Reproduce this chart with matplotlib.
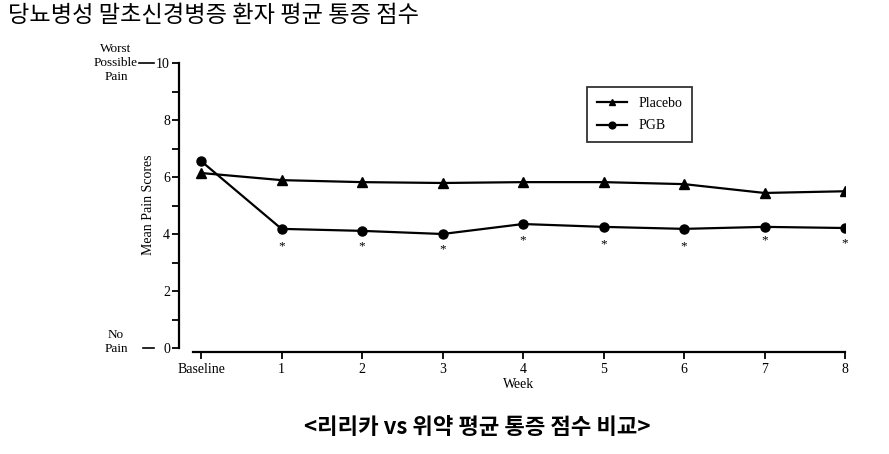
import matplotlib
matplotlib.use("Agg")
import matplotlib.pyplot as plt

weeks = [0, 1, 2, 3, 4, 5, 6, 7, 8]
week_labels = ["Baseline", "1", "2", "3", "4", "5", "6", "7", "8"]
placebo = [6.14, 5.89, 5.82, 5.79, 5.82, 5.82, 5.75, 5.44, 5.50]
pgb = [6.56, 4.18, 4.11, 4.00, 4.35, 4.25, 4.18, 4.25, 4.21]
star_weeks = [1, 2, 3, 4, 5, 6, 7, 8]
star_y = [3.58, 3.55, 3.45, 3.78, 3.65, 3.58, 3.78, 3.68]

title = "당뇨병성 말초신경병증 환자 평균 통증 점수"
caption = "<리리카 vs 위약 평균 통증 점수 비교>"

serif = "Liberation Serif"
fig = plt.figure(figsize=(8.89, 4.54), dpi=100)
ax = fig.add_axes([193/889, 1-348/454, (845-193)/889, 285/454])

ax.plot(weeks, placebo, color="black", lw=1.6, marker="^", ms=6.5, label="Placebo")
ax.plot(weeks, pgb, color="black", lw=1.6, marker="o", ms=6.5, label="PGB")
for xw, yv in zip(star_weeks, star_y):
    ax.text(xw, yv, "*", ha="center", va="center", fontsize=9.5, family=serif)

ax.set_xlim(-0.1, 8)
ax.set_ylim(0, 10)
ax.spines["top"].set_visible(False)
ax.spines["right"].set_visible(False)
ax.spines["left"].set_position(("outward", 10))
ax.spines["bottom"].set_position(("outward", 3))
ax.spines["left"].set_linewidth(1.6)
ax.spines["bottom"].set_linewidth(1.6)
ax.set_yticks([0, 2, 4, 6, 8, 10])
ax.set_yticks([1, 3, 5, 7, 9], minor=True)
ax.set_xticks(weeks)
ax.set_xticklabels(week_labels)
ax.tick_params(axis="both", which="both", direction="out", width=1.3, labelsize=10)
ax.tick_params(axis="y", which="both", length=5, pad=1.5)
ax.tick_params(axis="x", length=5, pad=3)
for lab in ax.get_xticklabels() + ax.get_yticklabels():
    lab.set_family(serif)
ax.set_xlabel("Week", family=serif, fontsize=10, labelpad=1)
ax.set_ylabel("Mean Pain Scores", family=serif, fontsize=10)
ax.yaxis.set_label_coords((155-193)/652, (348-205)/285)

fig.text(116/889, 1-63/454, "Worst\nPossible\nPain", ha="center", va="center",
         family=serif, fontsize=9.5, linespacing=1.2)
fig.text(116/889, 1-342/454, "No\nPain", ha="center", va="center",
         family=serif, fontsize=9.5, linespacing=1.2)
fig.lines.append(plt.Line2D([139/889, 154/889], [1-63/454]*2, color="black", lw=1.2, transform=fig.transFigure))
fig.lines.append(plt.Line2D([143/889, 154/889], [1-348/454]*2, color="black", lw=1.2, transform=fig.transFigure))

leg = ax.legend(loc="upper left", bbox_to_anchor=((587-193)/652, (348-87)/285),
                frameon=True, fancybox=False, edgecolor="black", prop={"family": serif, "size": 10},
                handlelength=2.2, borderpad=0.7, labelspacing=0.7, markerscale=0.75,
                borderaxespad=0, handletextpad=0.8)
leg.get_frame().set_linewidth(1.3)

fig.text(8/889, 1-16/454, title, ha="left", va="center", fontsize=16.7,
         family=["Noto Sans CJK KR", "DejaVu Sans"])
fig.text(477/889, 1-427/454, caption, ha="center", va="center", fontsize=16, fontweight="bold",
         family=["Noto Sans CJK KR", "DejaVu Sans"])

fig.savefig("out.png", dpi=100)
